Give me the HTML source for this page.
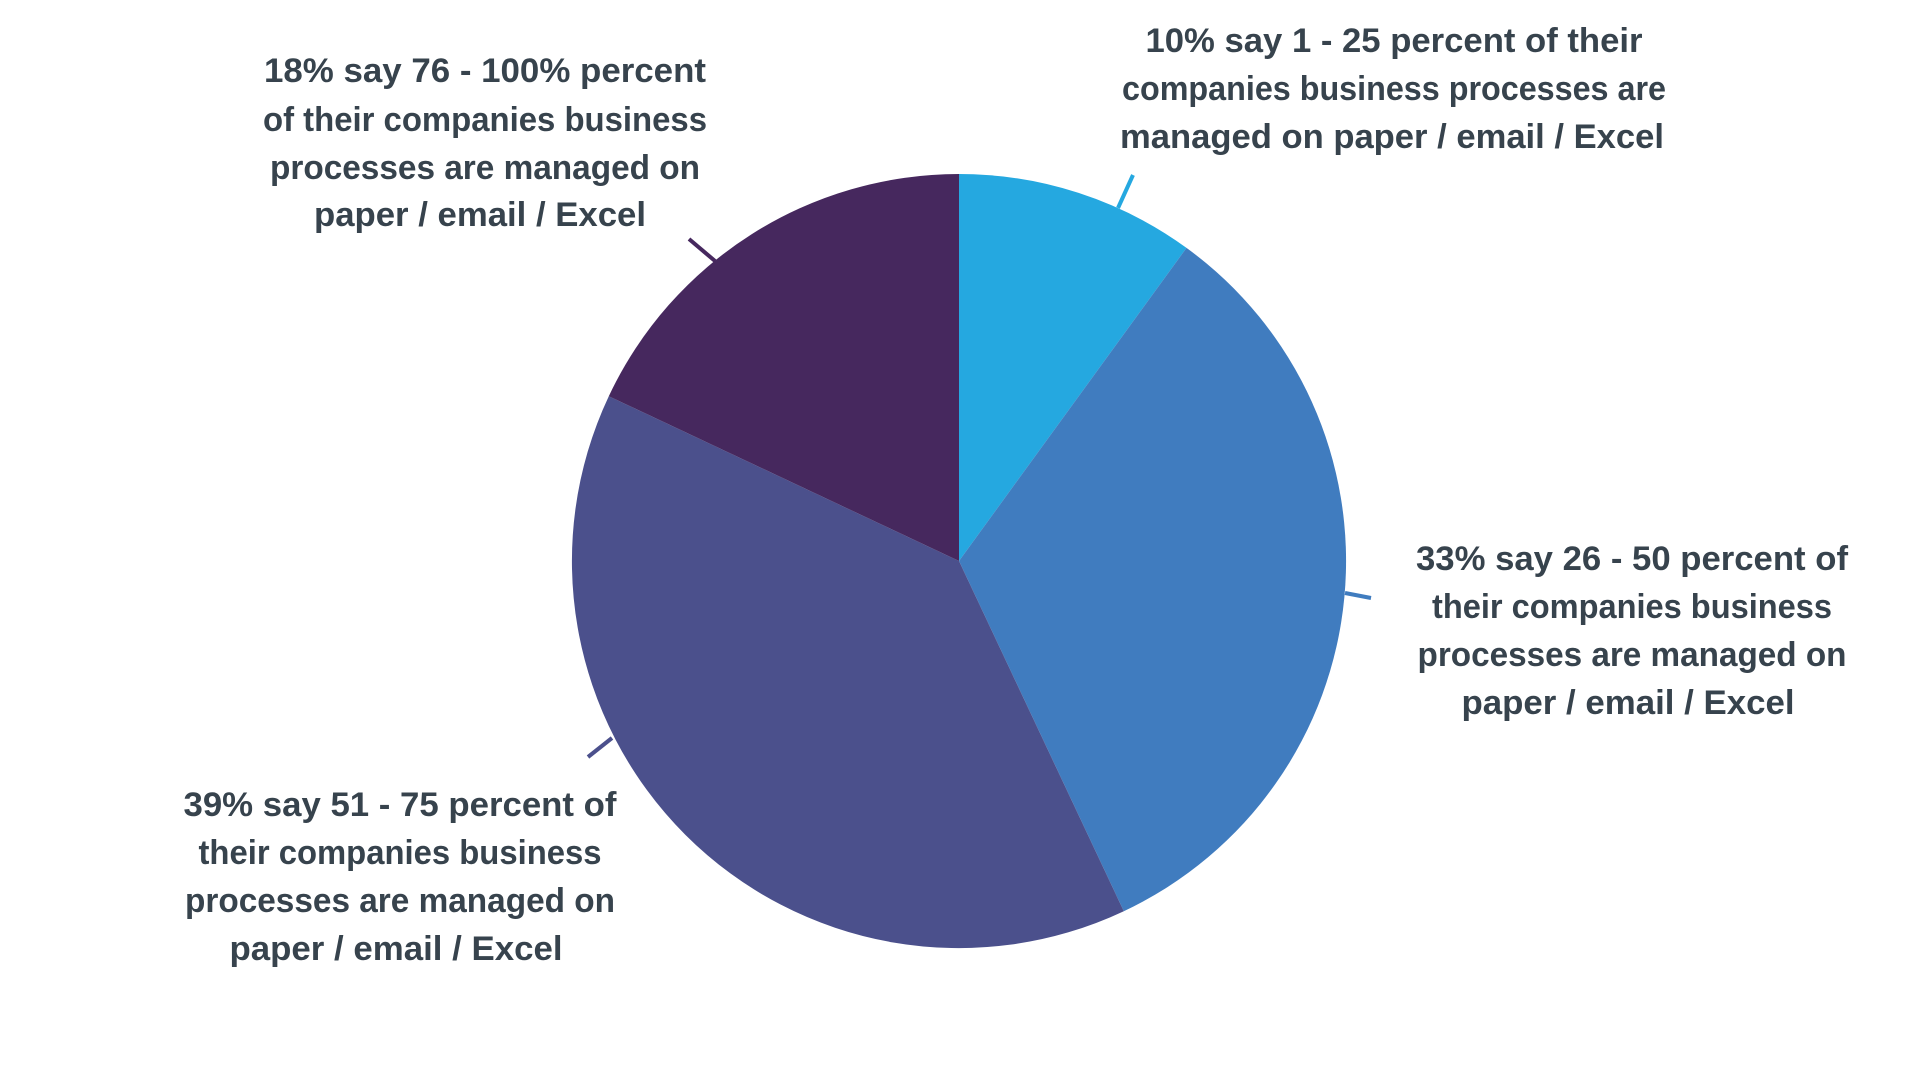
<!DOCTYPE html>
<html><head><meta charset="utf-8"><style>html,body{margin:0;padding:0;background:#fff;}svg{display:block}</style></head>
<body>
<svg width="1920" height="1080" viewBox="0 0 1920 1080" xmlns="http://www.w3.org/2000/svg">
<g transform="translate(959,561)">
<path d="M0,0 L0,-387 A387,387 0 0 1 227.5,-313.1 Z" fill="#25A8E0"/>
<path d="M0,0 L227.5,-313.1 A387,387 0 0 1 164.8,350.2 Z" fill="#407CBF"/>
<path d="M0,0 L164.8,350.2 A387,387 0 0 1 -350.2,-164.8 Z" fill="#4B508C"/>
<path d="M0,0 L-350.2,-164.8 A387,387 0 0 1 0,-387 Z" fill="#46285E"/>
</g>
<g stroke-width="4" fill="none">
<line x1="1118" y1="208" x2="1133" y2="175" stroke="#25A8E0"/>
<line x1="1345" y1="593" x2="1371" y2="598" stroke="#407CBF"/>
<line x1="612" y1="738" x2="588" y2="757" stroke="#4B508C"/>
<line x1="715" y1="261" x2="689" y2="239" stroke="#46285E"/>
</g>
<g font-family="Liberation Sans, sans-serif" font-weight="bold" font-size="34" fill="#37434d" text-anchor="middle">
<text x="1394" y="52" textLength="497" lengthAdjust="spacingAndGlyphs">10% say 1 - 25 percent of their</text>
<text x="1394" y="100" textLength="544" lengthAdjust="spacingAndGlyphs">companies business processes are</text>
<text x="1392" y="148" textLength="544" lengthAdjust="spacingAndGlyphs">managed on paper / email / Excel</text>

<text x="1632" y="570" textLength="432" lengthAdjust="spacingAndGlyphs">33% say 26 - 50 percent of</text>
<text x="1632" y="618" textLength="400" lengthAdjust="spacingAndGlyphs">their companies business</text>
<text x="1632" y="666" textLength="429" lengthAdjust="spacingAndGlyphs">processes are managed on</text>
<text x="1628" y="714" textLength="333" lengthAdjust="spacingAndGlyphs">paper / email / Excel</text>

<text x="400" y="816" textLength="433" lengthAdjust="spacingAndGlyphs">39% say 51 - 75 percent of</text>
<text x="400" y="864" textLength="403" lengthAdjust="spacingAndGlyphs">their companies business</text>
<text x="400" y="912" textLength="430" lengthAdjust="spacingAndGlyphs">processes are managed on</text>
<text x="396" y="960" textLength="333" lengthAdjust="spacingAndGlyphs">paper / email / Excel</text>

<text x="485" y="82" textLength="442" lengthAdjust="spacingAndGlyphs">18% say 76 - 100% percent</text>
<text x="485" y="131" textLength="444" lengthAdjust="spacingAndGlyphs">of their companies business</text>
<text x="485" y="179" textLength="430" lengthAdjust="spacingAndGlyphs">processes are managed on</text>
<text x="480" y="226" textLength="332" lengthAdjust="spacingAndGlyphs">paper / email / Excel</text>
</g>
</svg>
</body></html>
